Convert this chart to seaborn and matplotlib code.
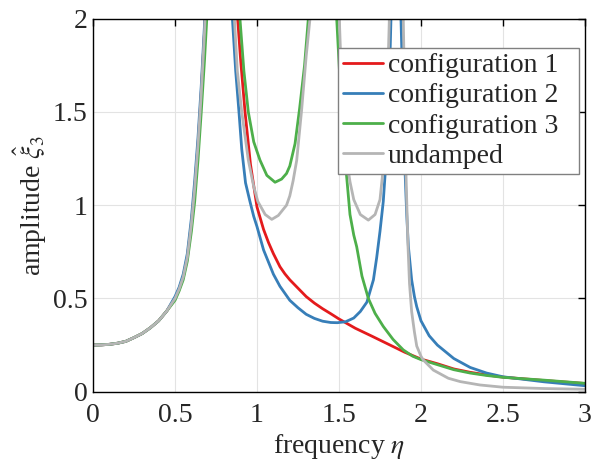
import pandas as pd
import matplotlib
matplotlib.use('Agg')
import matplotlib.pyplot as plt
import seaborn as sns

# common low-frequency branch (all configurations nearly identical here)
eta_low = [0, 0.05, 0.1, 0.15, 0.2, 0.25, 0.3, 0.35, 0.4, 0.45]
amp_low = [0.25, 0.251, 0.254, 0.26, 0.27, 0.29, 0.312, 0.343, 0.38, 0.433]

# configuration 1 (red)
eta_c1 = eta_low + [0.5, 0.525, 0.55, 0.575, 0.6, 0.62, 0.64, 0.66, 0.68, 0.69, 0.78, 0.87, 0.882,
                    0.90, 0.927, 0.96, 1.0, 1.04, 1.07, 1.1, 1.14, 1.17, 1.2, 1.25, 1.3, 1.35, 1.4,
                    1.45, 1.5, 1.55, 1.6, 1.7, 1.8, 1.9, 2.0, 2.1, 2.2, 2.3, 2.4, 2.5, 2.75, 3.0]
amp_c1 = amp_low + [0.50, 0.55, 0.615, 0.72, 0.90, 1.09, 1.32, 1.6, 1.93, 2.15, 6.0, 2.2, 2.0,
                    1.78, 1.5, 1.22, 0.99, 0.87, 0.80, 0.74, 0.67, 0.632, 0.60, 0.555, 0.51, 0.475, 0.445,
                    0.418, 0.39, 0.365, 0.34, 0.298, 0.255, 0.212, 0.175, 0.15, 0.122, 0.104, 0.09,
                    0.078, 0.06, 0.044]

# configuration 2 (blue)
eta_c2 = eta_low + [0.5, 0.525, 0.55, 0.575, 0.6, 0.62, 0.64, 0.66, 0.68, 0.69, 0.765, 0.84, 0.85,
                    0.87, 0.89, 0.907, 0.93, 0.957, 0.98, 1.0, 1.04, 1.1, 1.14, 1.2, 1.25, 1.3, 1.35,
                    1.4, 1.45, 1.49, 1.54, 1.59, 1.63, 1.67, 1.71, 1.73, 1.75, 1.77, 1.79, 1.805,
                    1.817, 1.825, 1.848, 1.87, 1.878, 1.89, 1.902, 1.913, 1.923, 1.943, 1.96, 1.974,
                    2.0, 2.05, 2.1, 2.2, 2.3, 2.4, 2.5, 2.75, 3.0]
amp_c2 = amp_low + [0.51, 0.56, 0.63, 0.74, 0.93, 1.13, 1.36, 1.64, 1.97, 2.2, 6.0, 2.2, 2.0,
                    1.72, 1.5, 1.3, 1.12, 1.02, 0.94, 0.885, 0.76, 0.63, 0.565, 0.49, 0.45, 0.415, 0.393,
                    0.378, 0.371, 0.37, 0.375, 0.395, 0.43, 0.48, 0.6, 0.72, 0.86, 1.02, 1.28, 1.6,
                    2.0, 2.3, 3.5, 2.4, 2.0, 1.6, 1.2, 0.95, 0.78, 0.6, 0.51, 0.456,
                    0.38, 0.3, 0.25, 0.178, 0.13, 0.1, 0.08, 0.053, 0.032]

# configuration 3 (green)
eta_c3 = eta_low + [0.5, 0.525, 0.55, 0.575, 0.6, 0.62, 0.64, 0.66, 0.68, 0.70, 0.79, 0.885, 0.896,
                    0.92, 0.947, 0.98, 1.018, 1.06, 1.11, 1.15, 1.18, 1.2, 1.232, 1.26, 1.29, 1.313,
                    1.325, 1.40, 1.475, 1.486, 1.51, 1.537, 1.55, 1.567, 1.59, 1.608, 1.64, 1.679,
                    1.72, 1.77, 1.83, 1.892, 1.95, 2.0, 2.1, 2.2, 2.3, 2.4, 2.5, 2.75, 3.0]
amp_c3 = amp_low + [0.49, 0.54, 0.60, 0.70, 0.86, 1.02, 1.24, 1.5, 1.78, 2.1, 6.0, 2.2, 2.0,
                    1.72, 1.5, 1.34, 1.242, 1.16, 1.123, 1.14, 1.17, 1.21, 1.33, 1.52, 1.75, 2.0,
                    2.3, 6.0, 2.3, 2.0, 1.6, 1.25, 1.12, 0.95, 0.84, 0.777, 0.62, 0.50,
                    0.42, 0.35, 0.28, 0.224, 0.19, 0.172, 0.145, 0.118, 0.1, 0.087, 0.077, 0.062, 0.045]

# undamped (gray)
eta_un = eta_low + [0.5, 0.525, 0.55, 0.575, 0.6, 0.62, 0.64, 0.66, 0.68, 0.69, 0.77, 0.85, 0.862,
                    0.88, 0.907, 0.947, 0.98, 1.005, 1.05, 1.09, 1.13, 1.18, 1.2, 1.22, 1.242, 1.272,
                    1.3, 1.323, 1.335, 1.41, 1.49, 1.502, 1.52, 1.537, 1.567, 1.59, 1.63, 1.679, 1.72,
                    1.75, 1.77, 1.79, 1.807, 1.815, 1.85, 1.882, 1.892, 1.90, 1.909, 1.92, 1.93, 1.943,
                    1.96, 1.974, 2.0, 2.014, 2.075, 2.167, 2.24, 2.36, 2.5, 2.75, 3.0]
amp_un = amp_low + [0.50, 0.55, 0.615, 0.72, 0.90, 1.09, 1.32, 1.6, 1.93, 2.15, 12, 2.3, 2.0,
                    1.72, 1.5, 1.242, 1.1, 1.02, 0.95, 0.924, 0.945, 1.0, 1.05, 1.13, 1.24, 1.51,
                    1.8, 2.0, 2.3, 12, 2.3, 2.0, 1.55, 1.3, 1.126, 1.03, 0.95, 0.92, 0.95,
                    1.03, 1.2, 1.45, 2.0, 2.3, 12, 2.3, 2.0, 1.6, 1.15, 0.8, 0.58, 0.43,
                    0.32, 0.245, 0.19, 0.17, 0.116, 0.072, 0.054, 0.036, 0.024, 0.017, 0.013]

labels = ['configuration 1', 'configuration 2', 'configuration 3', 'undamped']
colors = ['#e41a1c', '#377eb8', '#4daf4a', '#b5b5b5']
xticks = [0, 0.5, 1, 1.5, 2, 2.5, 3]
xticklabels = ['0', '0.5', '1', '1.5', '2', '2.5', '3']
yticks = [0, 0.5, 1, 1.5, 2]
yticklabels = ['0', '0.5', '1', '1.5', '2']

frames = []
for lab, x, y in zip(labels, [eta_c1, eta_c2, eta_c3, eta_un], [amp_c1, amp_c2, amp_c3, amp_un]):
    frames.append(pd.DataFrame({'eta': x, 'amp': y, 'config': lab}))
df = pd.concat(frames, ignore_index=True)

sns.set_style('whitegrid')
plt.rcParams['font.family'] = ['Liberation Serif', 'DejaVu Serif']
plt.rcParams['mathtext.fontset'] = 'stix'

fig, ax = plt.subplots(figsize=(5.94, 4.63), dpi=100)
fig.subplots_adjust(left=0.1566, right=0.9848, top=0.9596, bottom=0.154)

sns.lineplot(data=df, x='eta', y='amp', hue='config', hue_order=labels,
             palette=colors, estimator=None, linewidth=2, ax=ax)

ax.set_xlim(0, 3)
ax.set_ylim(0, 2)
ax.set_xticks(xticks)
ax.set_xticklabels(xticklabels)
ax.set_yticks(yticks)
ax.set_yticklabels(yticklabels)
ax.tick_params(direction='in', top=True, right=True, length=5, width=1,
               labelsize=20, color='black', labelcolor='#262626')
ax.tick_params(axis='x', pad=8)
ax.tick_params(axis='y', pad=4)
ax.grid(True, color='#e3e3e3', linewidth=0.8)
for s in ax.spines.values():
    s.set_color('black')
    s.set_linewidth(1)
ax.set_xlabel(r'frequency $\eta$', fontsize=20, color='#262626', labelpad=3)
ax.set_ylabel(r'amplitude $\hat{\xi}_3$', fontsize=20, color='#262626', labelpad=3)

# legend box stretched to the reference width (extra room on the right, like MATLAB)
sns.move_legend(ax, loc='upper left', bbox_to_anchor=(0.497, 0.0, 0.491, 0.922), mode='expand',
                title=None, fontsize=20, frameon=True, fancybox=False, edgecolor='#808080',
                framealpha=1, borderaxespad=0, handlelength=1.45, handletextpad=0.18,
                labelspacing=0.17, borderpad=0.18)
leg = ax.get_legend()
for line in leg.get_lines():
    line.set_linewidth(2)

fig.savefig('out.png', dpi=100)
